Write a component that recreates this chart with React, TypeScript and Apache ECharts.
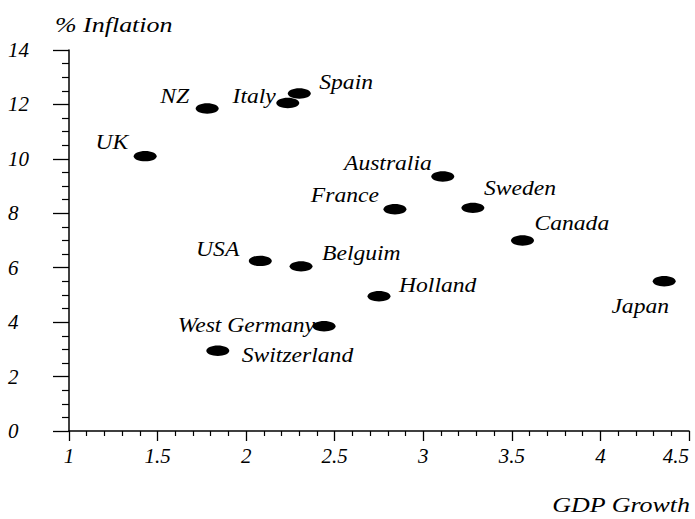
import React, { useEffect, useRef } from "react";
import * as echarts from "echarts";

const countries = [
  "UK", "NZ", "Italy", "Spain", "Australia", "France", "Sweden",
  "Canada", "USA", "Belguim", "Holland", "Japan", "West Germany", "Switzerland",
];
const gdpGrowth = [1.43, 1.78, 2.235, 2.3, 3.11, 2.84, 3.28, 3.56, 2.08, 2.31, 2.75, 4.36, 2.44, 1.84];
const inflation = [10.1, 11.85, 12.05, 12.4, 9.35, 8.15, 8.2, 7.0, 6.25, 6.05, 4.95, 5.5, 3.85, 2.95];

const xTicks = { min: 1, max: 4.5, interval: 0.5 };
const yTicks = { min: 0, max: 14, interval: 2 };

// label placement (align, dx, dy) relative to the marker centre — styling only
const labelPlacement: Record<string, [string, number, number]> = {
  UK: ["right", -17, -14],
  NZ: ["right", -18, -12],
  Italy: ["right", -12, -6],
  Spain: ["left", 20, -11],
  Australia: ["right", -11, -13],
  France: ["right", -16, -14],
  Sweden: ["left", 11, -19],
  Canada: ["left", 12, -17],
  USA: ["right", -21, -11],
  Belguim: ["left", 21, -13],
  Holland: ["left", 20, -11],
  Japan: ["center", -24, 25],
  "West Germany": ["right", -9, -1],
  Switzerland: ["left", 24, 5],
};

const FONT = "Liberation Serif";
const STRETCH = 1.18;

export default function App() {
  const ref = useRef<HTMLDivElement>(null);

  useEffect(() => {
    document.body.style.margin = "0";
    if (!ref.current) return;
    const chart = echarts.init(ref.current, undefined, { renderer: "svg" });
    const data = gdpGrowth.map((g, i) => [g, inflation[i]]);

    const axisText = {
      color: "#000",
      fontFamily: FONT,
      fontStyle: "italic" as const,
      fontSize: 21,
    };

    chart.setOption({
      animation: false,
      backgroundColor: "#fff",
      textStyle: { fontFamily: FONT },
      grid: { left: 69, right: 6, top: 50, bottom: 88, containLabel: false },
      xAxis: {
        type: "value",
        min: xTicks.min,
        max: xTicks.max,
        interval: xTicks.interval,
        axisLine: { show: true, onZero: false, lineStyle: { color: "#000", width: 1.5 } },
        axisTick: { show: true, length: 10, lineStyle: { color: "#000", width: 1.3 } },
        minorTick: { show: true, splitNumber: 5, length: 5, lineStyle: { color: "#000", width: 1.2 } },
        splitLine: { show: false },
        axisLabel: {
          ...axisText,
          margin: 14,
          alignMaxLabel: "right",
          formatter: (v: number) => String(v),
        },
      },
      yAxis: {
        type: "value",
        min: yTicks.min,
        max: yTicks.max,
        interval: yTicks.interval,
        axisLine: { show: true, onZero: false, lineStyle: { color: "#000", width: 1.5 } },
        axisTick: { show: true, length: 16, lineStyle: { color: "#000", width: 1.3 } },
        minorTick: { show: true, splitNumber: 4, length: 7, lineStyle: { color: "#000", width: 1.2 } },
        splitLine: { show: false },
        axisLabel: {
          ...axisText,
          align: "left",
          margin: 61,
          formatter: (v: number) => String(v),
        },
      },
      graphic: [
        {
          type: "text",
          x: 55,
          y: 25,
          scaleX: STRETCH,
          style: {
            text: "% Inflation",
            fill: "#000",
            fontFamily: FONT,
            fontStyle: "italic",
            fontSize: 22,
            align: "left",
            verticalAlign: "middle",
          },
        },
        {
          type: "text",
          x: 690,
          y: 505,
          scaleX: STRETCH,
          style: {
            text: "GDP Growth",
            fill: "#000",
            fontFamily: FONT,
            fontStyle: "italic",
            fontSize: 22,
            align: "right",
            verticalAlign: "middle",
          },
        },
      ],
      series: [
        {
          type: "custom",
          coordinateSystem: "cartesian2d",
          encode: { x: 0, y: 1 },
          data,
          renderItem: (params: any, api: any) => {
            const p = api.coord([api.value(0), api.value(1)]);
            const name = countries[params.dataIndex];
            const [align, dx, dy] = labelPlacement[name] || ["left", 15, 0];
            return {
              type: "group",
              children: [
                {
                  type: "ellipse",
                  shape: { cx: p[0], cy: p[1], rx: 11.5, ry: 5.2 },
                  style: { fill: "#000" },
                },
                {
                  type: "text",
                  x: p[0] + dx,
                  y: p[1] + dy,
                  scaleX: STRETCH,
                  style: {
                    text: name,
                    fill: "#000",
                    fontFamily: FONT,
                    fontStyle: "italic",
                    fontSize: 20,
                    align,
                    verticalAlign: "middle",
                  },
                },
              ],
            };
          },
        },
      ],
    });

    return () => chart.dispose();
  }, []);

  return <div ref={ref} style={{ width: 695, height: 519 }} />;
}
